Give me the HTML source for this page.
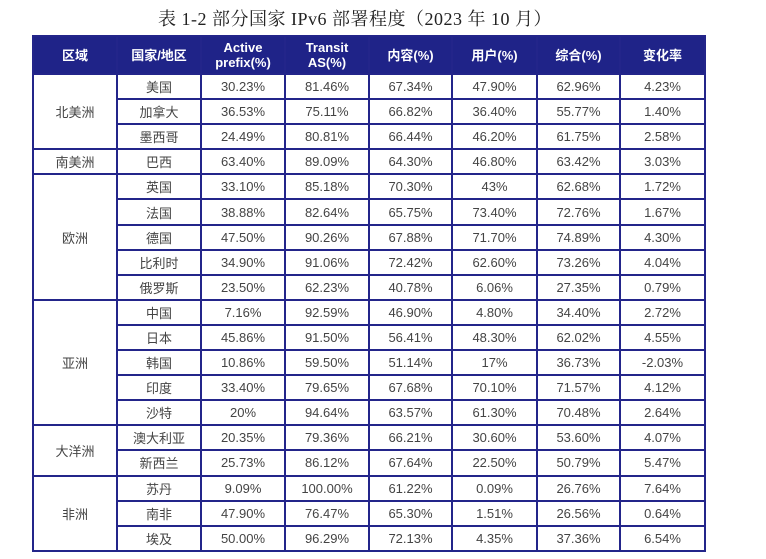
<!DOCTYPE html>
<html><head><meta charset="utf-8"><style>
body{margin:0;width:766px;height:559px;background:#fff;position:relative;overflow:hidden;font-family:"Liberation Sans","Noto Sans CJK SC",sans-serif;}
#title{position:absolute;left:0;width:710px;top:5px;text-align:center;font-family:"Liberation Serif","Noto Serif CJK SC",serif;font-size:18px;letter-spacing:0.5px;color:#222;}
table{position:absolute;left:32px;top:35px;width:672px;border-collapse:collapse;table-layout:fixed;}
td,th{border:2px solid #23258a;text-align:center;font-size:13px;color:#444;padding:0;}
th{background:#1f2388;color:#fff;height:36px;font-weight:bold;line-height:15px;}
td{height:23.1px;}
</style></head><body>
<div id="title">表 1-2 部分国家 IPv6 部署程度（2023 年 10 月）</div>
<table>
<colgroup><col style="width:84px"><col style="width:84px"><col style="width:84px"><col style="width:84px"><col style="width:83px"><col style="width:85px"><col style="width:83px"><col style="width:85px"></colgroup>
<thead><tr><th>区域</th><th>国家/地区</th><th>Active<br>prefix(%)</th><th>Transit<br>AS(%)</th><th>内容(%)</th><th>用户(%)</th><th>综合(%)</th><th>变化率</th></tr></thead>
<tbody>
<tr><td rowspan="3">北美洲</td><td>美国</td><td>30.23%</td><td>81.46%</td><td>67.34%</td><td>47.90%</td><td>62.96%</td><td>4.23%</td></tr>
<tr><td>加拿大</td><td>36.53%</td><td>75.11%</td><td>66.82%</td><td>36.40%</td><td>55.77%</td><td>1.40%</td></tr>
<tr><td>墨西哥</td><td>24.49%</td><td>80.81%</td><td>66.44%</td><td>46.20%</td><td>61.75%</td><td>2.58%</td></tr>
<tr><td>南美洲</td><td>巴西</td><td>63.40%</td><td>89.09%</td><td>64.30%</td><td>46.80%</td><td>63.42%</td><td>3.03%</td></tr>
<tr><td rowspan="5">欧洲</td><td>英国</td><td>33.10%</td><td>85.18%</td><td>70.30%</td><td>43%</td><td>62.68%</td><td>1.72%</td></tr>
<tr><td>法国</td><td>38.88%</td><td>82.64%</td><td>65.75%</td><td>73.40%</td><td>72.76%</td><td>1.67%</td></tr>
<tr><td>德国</td><td>47.50%</td><td>90.26%</td><td>67.88%</td><td>71.70%</td><td>74.89%</td><td>4.30%</td></tr>
<tr><td>比利时</td><td>34.90%</td><td>91.06%</td><td>72.42%</td><td>62.60%</td><td>73.26%</td><td>4.04%</td></tr>
<tr><td>俄罗斯</td><td>23.50%</td><td>62.23%</td><td>40.78%</td><td>6.06%</td><td>27.35%</td><td>0.79%</td></tr>
<tr><td rowspan="5">亚洲</td><td>中国</td><td>7.16%</td><td>92.59%</td><td>46.90%</td><td>4.80%</td><td>34.40%</td><td>2.72%</td></tr>
<tr><td>日本</td><td>45.86%</td><td>91.50%</td><td>56.41%</td><td>48.30%</td><td>62.02%</td><td>4.55%</td></tr>
<tr><td>韩国</td><td>10.86%</td><td>59.50%</td><td>51.14%</td><td>17%</td><td>36.73%</td><td>-2.03%</td></tr>
<tr><td>印度</td><td>33.40%</td><td>79.65%</td><td>67.68%</td><td>70.10%</td><td>71.57%</td><td>4.12%</td></tr>
<tr><td>沙特</td><td>20%</td><td>94.64%</td><td>63.57%</td><td>61.30%</td><td>70.48%</td><td>2.64%</td></tr>
<tr><td rowspan="2">大洋洲</td><td>澳大利亚</td><td>20.35%</td><td>79.36%</td><td>66.21%</td><td>30.60%</td><td>53.60%</td><td>4.07%</td></tr>
<tr><td>新西兰</td><td>25.73%</td><td>86.12%</td><td>67.64%</td><td>22.50%</td><td>50.79%</td><td>5.47%</td></tr>
<tr><td rowspan="3">非洲</td><td>苏丹</td><td>9.09%</td><td>100.00%</td><td>61.22%</td><td>0.09%</td><td>26.76%</td><td>7.64%</td></tr>
<tr><td>南非</td><td>47.90%</td><td>76.47%</td><td>65.30%</td><td>1.51%</td><td>26.56%</td><td>0.64%</td></tr>
<tr><td>埃及</td><td>50.00%</td><td>96.29%</td><td>72.13%</td><td>4.35%</td><td>37.36%</td><td>6.54%</td></tr>
</tbody></table>
</body></html>
